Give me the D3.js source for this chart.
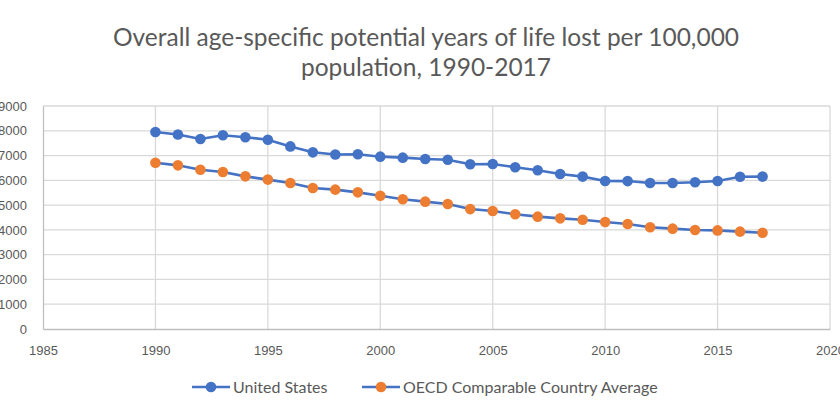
<!DOCTYPE html>
<html>
<head>
<meta charset="utf-8">
<script src="https://cdn.jsdelivr.net/npm/d3@7"></script>
<style>
  body { margin: 0; background: #fff; }
  text { fill: #595959; }
</style>
</head>
<body>
<svg id="chart" width="840" height="420"></svg>
<script>
// years and values
var years = [1990,1991,1992,1993,1994,1995,1996,1997,1998,1999,2000,2001,2002,2003,2004,2005,2006,2007,2008,2009,2010,2011,2012,2013,2014,2015,2016,2017];
var usValues = [7950,7850,7670,7820,7740,7640,7370,7130,7040,7050,6955,6915,6860,6830,6650,6660,6530,6405,6255,6150,5975,5970,5895,5890,5920,5975,6145,6150];
var oecdValues = [6710,6605,6430,6335,6160,6030,5890,5690,5625,5515,5380,5235,5140,5045,4840,4760,4630,4535,4465,4410,4320,4240,4105,4050,3995,3980,3930,3885];
var xTicks = [1985,1990,1995,2000,2005,2010,2015,2020];
var yTicks = [0,1000,2000,3000,4000,5000,6000,7000,8000,9000];
var seriesNames = ["United States", "OECD Comparable Country Average"];

var blue = "#4472c4", orange = "#ed7d31", grid = "#d9d9d9";

var svg = d3.select("#chart");

var x = d3.scaleLinear().domain([1985, 2020]).range([43, 830]);
var y = d3.scaleLinear().domain([0, 9000]).range([329, 106]);

// title
svg.append("text")
   .attr("x", 426).attr("y", 46)
   .attr("text-anchor", "middle")
   .style("font-family", "Lato, sans-serif").style("font-size", "24.5px")
   .text("Overall age-specific potential years of life lost per 100,000");
svg.append("text")
   .attr("x", 426).attr("y", 76)
   .attr("text-anchor", "middle")
   .style("font-family", "Lato, sans-serif").style("font-size", "24.5px")
   .text("population, 1990-2017");

// gridlines
svg.append("g").selectAll("line")
   .data(yTicks.slice(1))
   .enter().append("line")
   .attr("x1", x(1985)).attr("x2", x(2020))
   .attr("y1", function(d) { return y(d); })
   .attr("y2", function(d) { return y(d); })
   .attr("stroke", grid).attr("stroke-width", 1.3);

svg.append("g").selectAll("line")
   .data(xTicks.slice(1))
   .enter().append("line")
   .attr("x1", function(d) { return x(d); })
   .attr("x2", function(d) { return x(d); })
   .attr("y1", y(0)).attr("y2", y(9000))
   .attr("stroke", grid).attr("stroke-width", 1.3);

// axes
var yAxis = svg.append("g")
   .attr("transform", "translate(" + x(1985) + ",0)")
   .call(d3.axisLeft(y).tickValues(yTicks).tickSize(0).tickPadding(16).tickFormat(d3.format("d")));
yAxis.select(".domain").attr("stroke", "#bfbfbf").attr("stroke-width", 1.3);
yAxis.selectAll("text").style("font-family", "'Liberation Sans', Arial, sans-serif").style("font-size", "13px");

var xAxis = svg.append("g")
   .attr("transform", "translate(0," + y(0) + ")")
   .call(d3.axisBottom(x).tickValues(xTicks).tickSize(0).tickPadding(17).tickFormat(d3.format("d")));
xAxis.select(".domain").attr("stroke", "#bfbfbf").attr("stroke-width", 1.3);
xAxis.selectAll("text").style("font-family", "'Liberation Sans Narrow', 'Liberation Sans', sans-serif").style("font-size", "13px");

// series
var line = d3.line()
   .x(function(d, i) { return x(years[i]); })
   .y(function(d) { return y(d); });

var series = [
  { values: usValues, marker: blue },
  { values: oecdValues, marker: orange }
];

series.forEach(function(s) {
  svg.append("path")
     .datum(s.values)
     .attr("d", line)
     .attr("fill", "none")
     .attr("stroke", blue)
     .attr("stroke-width", 2.6);
  svg.append("g").selectAll("circle")
     .data(s.values)
     .enter().append("circle")
     .attr("cx", function(d, i) { return x(years[i]); })
     .attr("cy", function(d) { return y(d); })
     .attr("r", 5.3)
     .attr("fill", s.marker);
});

// legend
var legendX = [192, 362];
var legend = svg.append("g").selectAll("g")
   .data(seriesNames)
   .enter().append("g")
   .attr("transform", function(d, i) { return "translate(" + legendX[i] + ",387)"; });
legend.append("line")
   .attr("x1", 0).attr("x2", 38)
   .attr("stroke", blue).attr("stroke-width", 2.6);
legend.append("circle")
   .attr("cx", 19).attr("r", 5.3)
   .attr("fill", function(d, i) { return series[i].marker; });
legend.append("text")
   .attr("x", 41).attr("y", 5.5)
   .style("font-family", "Lato, sans-serif").style("font-size", "16px")
   .text(function(d) { return d; });
</script>
</body>
</html>
